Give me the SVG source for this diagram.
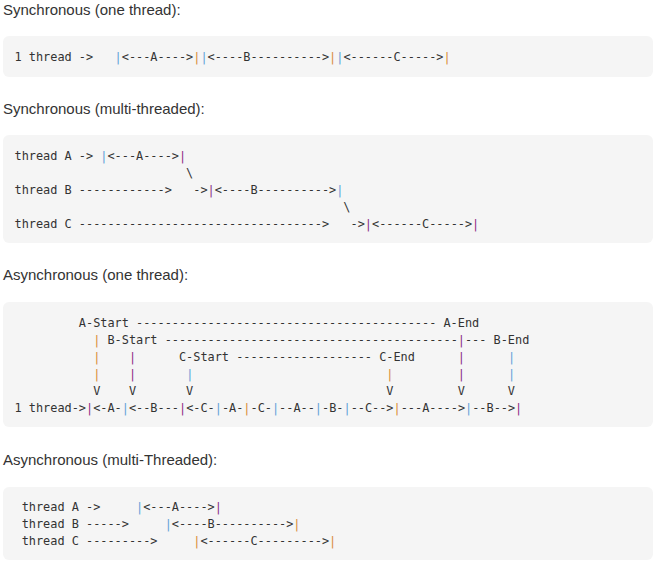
<svg xmlns="http://www.w3.org/2000/svg" width="654" height="573" viewBox="0 0 654 573">
<style>
.h{font-family:"Liberation Sans",Arial,sans-serif;font-size:15px;fill:#333}
.blk{fill:#f5f5f5}
.c{font-family:"DejaVu Sans Mono","Liberation Mono",monospace;font-size:11.88px;fill:#333}
.o{fill:#d98a35}
.b{fill:#5fa0d8}
.p{fill:#8a2c86}
</style>
<rect width="654" height="573" fill="#ffffff"/>
<g id="sync-one">
<text class="h" x="3" y="14.5">Synchronous (one thread):</text>
<rect class="blk" x="3" y="36" width="650" height="41" rx="6"/>
<text class="c" x="14.5" y="60.5" xml:space="preserve">1 thread ->   <tspan class="b">|</tspan>&lt;---A----&gt;<tspan class="o">|</tspan><tspan class="b">|</tspan>&lt;----B----------&gt;<tspan class="o">|</tspan><tspan class="b">|</tspan>&lt;------C-----&gt;<tspan class="o">|</tspan></text>
</g>
<g id="sync-multi">
<text class="h" x="3" y="114">Synchronous (multi-threaded):</text>
<rect class="blk" x="3" y="135" width="650" height="108" rx="6"/>
<text class="c" x="14.5" y="160" xml:space="preserve">thread A -&gt; <tspan class="b">|</tspan>&lt;---A----&gt;<tspan class="p">|</tspan></text>
<text class="c" x="14.5" y="177" xml:space="preserve">                        \</text>
<text class="c" x="14.5" y="194" xml:space="preserve">thread B ------------&gt;   -&gt;<tspan class="p">|</tspan>&lt;----B----------&gt;<tspan class="b">|</tspan></text>
<text class="c" x="14.5" y="211" xml:space="preserve">                                              \</text>
<text class="c" x="14.5" y="228" xml:space="preserve">thread C ----------------------------------&gt;   -&gt;<tspan class="p">|</tspan>&lt;------C-----&gt;<tspan class="p">|</tspan></text>
</g>
<g id="async-one">
<text class="h" x="3" y="280">Asynchronous (one thread):</text>
<rect class="blk" x="3" y="302" width="650" height="125" rx="6"/>
<text class="c" x="14.5" y="327" xml:space="preserve">         A-Start ------------------------------------------ A-End</text>
<text class="c" x="14.5" y="344" xml:space="preserve">           <tspan class="o">|</tspan> B-Start -----------------------------------------<tspan class="p">|</tspan>--- B-End</text>
<text class="c" x="14.5" y="361" xml:space="preserve">           <tspan class="o">|</tspan>    <tspan class="p">|</tspan>      C-Start ------------------- C-End      <tspan class="p">|</tspan>      <tspan class="b">|</tspan></text>
<text class="c" x="14.5" y="378" xml:space="preserve">           <tspan class="o">|</tspan>    <tspan class="p">|</tspan>       <tspan class="b">|</tspan>                           <tspan class="o">|</tspan>         <tspan class="p">|</tspan>      <tspan class="b">|</tspan></text>
<text class="c" x="14.5" y="395" xml:space="preserve">           V    V       V                           V         V      V</text>
<text class="c" x="14.5" y="412" xml:space="preserve">1 thread-&gt;<tspan class="p">|</tspan>&lt;-A-<tspan class="b">|</tspan>&lt;--B---<tspan class="p">|</tspan>&lt;-C-<tspan class="b">|</tspan>-A-<tspan class="o">|</tspan>-C-<tspan class="b">|</tspan>--A--<tspan class="b">|</tspan>-B-<tspan class="b">|</tspan>--C--&gt;<tspan class="o">|</tspan>---A----&gt;<tspan class="b">|</tspan>--B--&gt;<tspan class="p">|</tspan></text>
</g>
<g id="async-multi">
<text class="h" x="3" y="465">Asynchronous (multi-Threaded):</text>
<rect class="blk" x="3" y="487" width="650" height="73" rx="6"/>
<text class="c" x="14.5" y="511" xml:space="preserve"> thread A -&gt;     <tspan class="b">|</tspan>&lt;---A----&gt;<tspan class="p">|</tspan></text>
<text class="c" x="14.5" y="528" xml:space="preserve"> thread B -----&gt;     <tspan class="b">|</tspan>&lt;----B----------&gt;<tspan class="o">|</tspan></text>
<text class="c" x="14.5" y="545" xml:space="preserve"> thread C ---------&gt;     <tspan class="o">|</tspan>&lt;------C---------&gt;<tspan class="o">|</tspan></text>
</g>
</svg>
